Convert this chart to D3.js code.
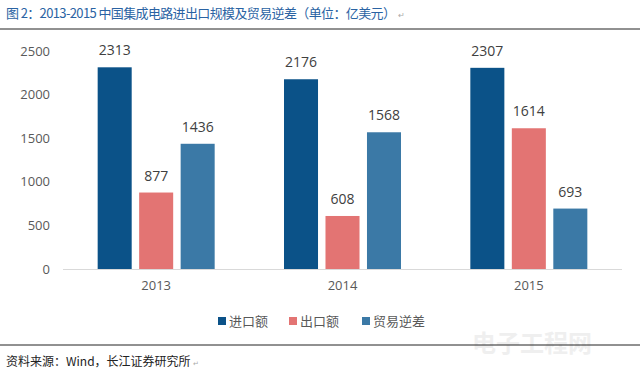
<!DOCTYPE html>
<html>
<head>
<meta charset="utf-8">
<script src="https://cdn.jsdelivr.net/npm/d3@7"></script>
<style>
  body { margin: 0; background: #fff; }
  svg { display: block; }
</style>
</head>
<body>
<div id="chart"></div>
<script>
const years = ["2013", "2014", "2015"];
const seriesNames = ["进口额", "出口额", "贸易逆差"];
const importVals = [2313, 2176, 2307];
const exportVals = [877, 608, 1614];
const deficitVals = [1436, 1568, 693];
const yTicks = [0, 500, 1000, 1500, 2000, 2500];
const colors = ["#0b5288", "#e37473", "#3b79a6"];

const W = 640, H = 371;
const fontNum = "'Open Sans', 'DejaVu Sans', sans-serif";
const fontCJK = "'Noto Sans CJK SC', sans-serif";

const svg = d3.select("#chart").append("svg")
  .attr("width", W).attr("height", H);

// 标题
svg.append("text")
  .attr("x", 6).attr("y", 18)
  .attr("textLength", 390).attr("lengthAdjust", "spacing")
  .style("font-family", fontCJK)
  .style("font-size", "13px")
  .style("fill", "#2a63a3")
  .text("图 2：2013-2015 中国集成电路进出口规模及贸易逆差（单位：亿美元）");
svg.append("text")
  .attr("x", 398).attr("y", 18)
  .style("font-size", "8px").style("fill", "#aaa")
  .text("↵");
svg.append("line")
  .attr("x1", 0).attr("x2", W).attr("y1", 29).attr("y2", 29)
  .attr("stroke", "#222").attr("stroke-width", 1);

const series = [importVals, exportVals, deficitVals];
const dataset = years.map((yr, i) => ({
  year: yr,
  values: seriesNames.map((s, j) => ({ key: s, idx: j, value: series[j][i] }))
}));

const x0 = d3.scaleBand().domain(years).range([63, 622]);
const groupW = 117;
const x1 = d3.scaleBand().domain(seriesNames).range([0, groupW]).paddingInner(0.18);
const y = d3.scaleLinear().domain([0, 2500]).range([269, 51]);

// Y轴刻度
svg.append("g").selectAll("text")
  .data(yTicks).enter().append("text")
  .attr("x", 50).attr("y", d => y(d)).attr("dy", "0.35em")
  .attr("text-anchor", "end")
  .style("font-family", fontNum).style("font-size", "13px").style("fill", "#595959")
  .text(d => d);

// 基线
svg.append("line")
  .attr("x1", 63).attr("x2", 622).attr("y1", y(0) + 0.5).attr("y2", y(0) + 0.5)
  .attr("stroke", "#d9d9d9").attr("stroke-width", 1);

const groups = svg.selectAll(".grp")
  .data(dataset).enter().append("g")
  .attr("class", "grp")
  .attr("transform", d => `translate(${x0(d.year) + (x0.bandwidth() - groupW) / 2},0)`);

groups.selectAll("rect")
  .data(d => d.values).enter().append("rect")
  .attr("x", d => x1(d.key))
  .attr("y", d => y(d.value))
  .attr("width", x1.bandwidth())
  .attr("height", d => y(0) - y(d.value))
  .attr("fill", d => colors[d.idx]);

groups.selectAll(".lbl")
  .data(d => d.values).enter().append("text")
  .attr("class", "lbl")
  .attr("x", d => x1(d.key) + x1.bandwidth() / 2)
  .attr("y", d => y(d.value) - 12)
  .attr("text-anchor", "middle")
  .style("font-family", fontNum).style("font-size", "14px").style("fill", "#404040")
  .text(d => d.value);

// X轴标签
svg.append("g").selectAll("text")
  .data(years).enter().append("text")
  .attr("x", d => x0(d) + x0.bandwidth() / 2)
  .attr("y", 285).attr("dy", "0.35em")
  .attr("text-anchor", "middle")
  .style("font-family", fontNum).style("font-size", "13px").style("fill", "#595959")
  .text(d => d);

// 图例
const legendX = [218, 289, 362];
const legend = svg.append("g").selectAll("g")
  .data(seriesNames).enter().append("g")
  .attr("transform", (d, i) => `translate(${legendX[i]},321)`);
legend.append("rect")
  .attr("x", 0).attr("y", -4).attr("width", 8).attr("height", 8)
  .attr("fill", (d, i) => colors[i]);
legend.append("text")
  .attr("x", 11).attr("y", 0).attr("dy", "0.35em")
  .style("font-family", fontCJK).style("font-size", "13px").style("fill", "#595959")
  .text(d => d);

// 水印
svg.append("text")
  .attr("x", 472).attr("y", 352)
  .style("font-family", fontCJK).style("font-size", "24px")
  .style("font-weight", "bold").style("fill", "#efefef")
  .text("电子工程网");

// 底部
svg.append("line")
  .attr("x1", 0).attr("x2", W).attr("y1", 345).attr("y2", 345)
  .attr("stroke", "#222").attr("stroke-width", 1);
const foot = svg.append("text")
  .attr("x", 6).attr("y", 366)
  .style("font-family", fontCJK).style("font-size", "12px").style("fill", "#222")
  .text("资料来源：Wind，长江证券研究所");
svg.append("text")
  .attr("x", 6 + foot.node().getComputedTextLength() + 2).attr("y", 366)
  .style("font-size", "7px").style("fill", "#aaa")
  .text("↵");
</script>
</body>
</html>
